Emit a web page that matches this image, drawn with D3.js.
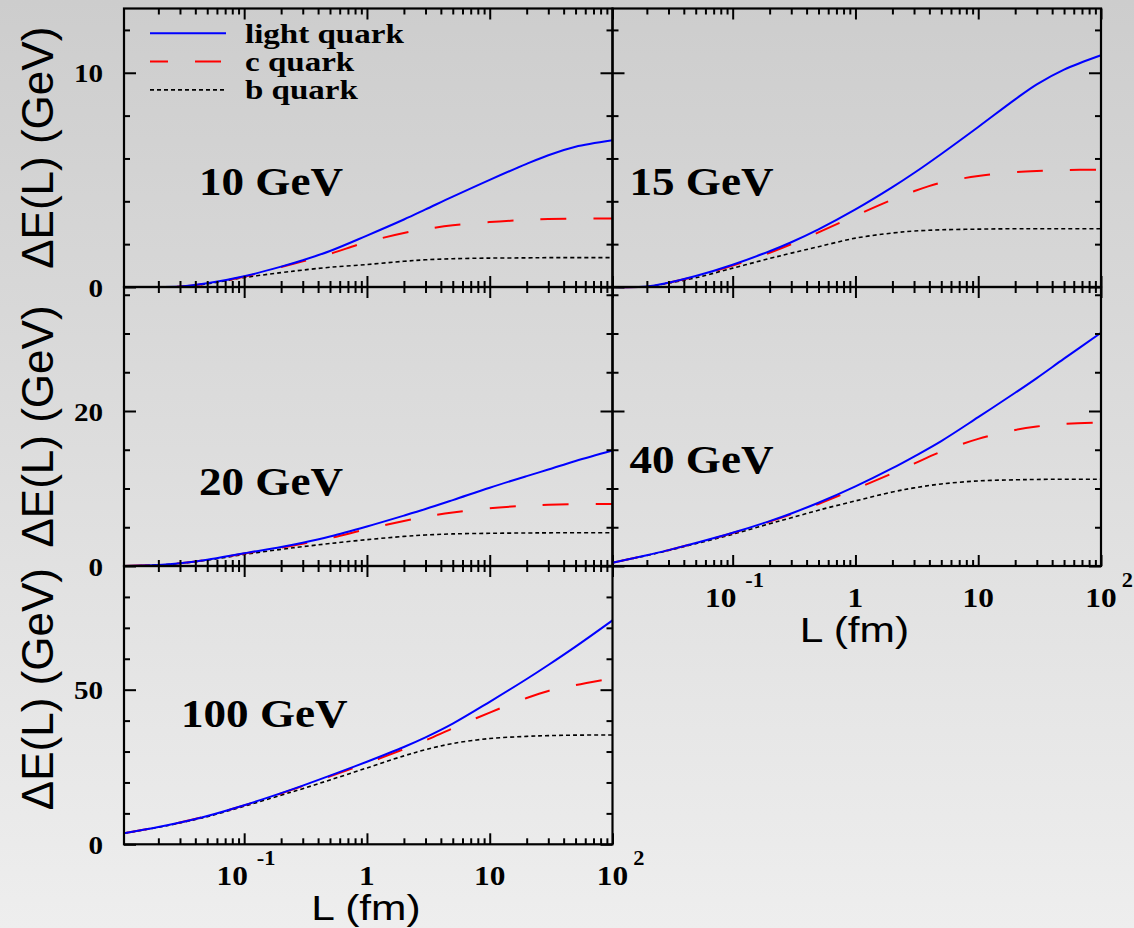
<!DOCTYPE html>
<html>
<head>
<meta charset="utf-8">
<script src="https://cdn.jsdelivr.net/npm/d3@7"></script>
<style>
  html, body { margin: 0; padding: 0; background: #dedede; }
  svg { display: block; }
</style>
</head>
<body>
<svg id="chart" width="1134" height="928"></svg>
<script>
// L (fm) sample points, shared by every curve
const xs = [0.0105, 0.02, 0.03, 0.05, 0.1, 0.2, 0.3, 0.5, 1, 2, 3, 5, 10, 20, 30, 50, 100]

// Delta E(L) in GeV
const light10 = [0, 0, 0.02, 0.17, 0.5, 0.95, 1.25, 1.68, 2.4, 3.15, 3.62, 4.22, 5.0, 5.75, 6.15, 6.55, 6.85]
const c10     = [0, 0, 0.02, 0.16, 0.48, 0.93, 1.2, 1.55, 2.1, 2.52, 2.7, 2.88, 3.03, 3.13, 3.17, 3.19, 3.2]
const b10     = [0, 0, 0.02, 0.15, 0.44, 0.67, 0.79, 0.92, 1.05, 1.2, 1.27, 1.32, 1.35, 1.36, 1.37, 1.37, 1.37]

const light15 = [0, 0.02, 0.2, 0.51, 1.04, 1.67, 2.09, 2.69, 3.62, 4.66, 5.32, 6.21, 7.47, 8.76, 9.46, 10.15, 10.82]
const c15     = [0, 0.02, 0.2, 0.49, 1.0, 1.6, 2.0, 2.55, 3.33, 4.08, 4.47, 4.87, 5.18, 5.36, 5.42, 5.46, 5.48]
const b15     = [0, 0.02, 0.18, 0.43, 0.88, 1.33, 1.58, 1.88, 2.28, 2.52, 2.61, 2.67, 2.7, 2.72, 2.72, 2.72, 2.72]

const light20 = [0, 0.13, 0.35, 0.8, 1.64, 2.45, 3.0, 3.8, 5.1, 6.5, 7.35, 8.5, 10.1, 11.6, 12.45, 13.55, 14.9]
const c20     = [0, 0.13, 0.35, 0.78, 1.6, 2.38, 2.88, 3.6, 4.75, 5.8, 6.35, 6.9, 7.45, 7.78, 7.9, 7.97, 8.0]
const b20     = [0, 0.12, 0.33, 0.75, 1.5, 2.15, 2.5, 2.9, 3.4, 3.82, 4.0, 4.14, 4.22, 4.26, 4.28, 4.29, 4.3]

const light40 = [0.43, 1.38, 2.05, 2.96, 4.28, 5.79, 6.78, 8.16, 10.27, 12.62, 14.12, 16.12, 19.2, 22.35, 24.25, 26.75, 30.1]
const c40     = [0.43, 1.38, 2.05, 2.95, 4.25, 5.72, 6.68, 8.0, 9.95, 11.95, 13.2, 14.75, 16.4, 17.55, 18.0, 18.35, 18.5]
const b40     = [0.43, 1.36, 2.0, 2.88, 4.1, 5.45, 6.22, 7.2, 8.4, 9.55, 10.08, 10.58, 10.98, 11.12, 11.17, 11.2, 11.2]

const light100 = [3.55, 5.59, 7.05, 9.16, 12.65, 16.56, 18.99, 22.19, 26.71, 31.47, 34.57, 39.01, 46.08, 53.45, 57.99, 63.94, 72.43]
const c100     = [3.55, 5.59, 7.05, 9.16, 12.6, 16.45, 18.85, 22.0, 26.2, 30.8, 33.6, 37.5, 42.6, 47.3, 49.6, 51.5, 53.7]
const b100     = [3.55, 5.5, 6.9, 8.95, 12.3, 15.9, 18.0, 20.8, 24.7, 28.6, 30.6, 32.6, 34.2, 34.9, 35.15, 35.3, 35.35]

const seriesNames = ["light quark", "c quark", "b quark"]
const panelLabels = ["10 GeV", "15 GeV", "20 GeV", "40 GeV", "100 GeV"]

// axis settings
const xDomain = [0.0105, 100]
const xMajor = [0.1, 1, 10, 100]
const xTickLabels = [
  { v: 0.1, base: "10", sup: "-1" },
  { v: 1, base: "1" },
  { v: 10, base: "10" },
  { v: 100, base: "10", sup: "2" }
]
const yMax = [13, 36, 90]
const yMajor = [[0, 10], [0, 20], [0, 50]]
const yMinorStep = [2, 5, 10]

// layout
const colX = [124, 612.5, 1101]
const rowY = [8.5, 287, 566, 844.3]
const titleShift = [0, 0, -16]

const panels = [
  { label: panelLabels[0], series: [light10, c10, b10], col: 0, row: 0, lx: 75, ly: 186.5, legend: true },
  { label: panelLabels[1], series: [light15, c15, b15], col: 1, row: 0, lx: 17, ly: 186.5 },
  { label: panelLabels[2], series: [light20, c20, b20], col: 0, row: 1, lx: 75, ly: 208 },
  { label: panelLabels[3], series: [light40, c40, b40], col: 1, row: 1, lx: 17, ly: 186, xLabels: true },
  { label: panelLabels[4], series: [light100, c100, b100], col: 0, row: 2, lx: 57, ly: 161, xLabels: true }
]

const styles = [
  { color: "#0000ff", width: 2, dash: null },
  { color: "#ff0000", width: 2, dash: "26,27" },
  { color: "#000000", width: 1.6, dash: "4,3" }
]

const SERIF = "'Liberation Serif','Times New Roman',serif"
const SANS = "'Liberation Sans',Arial,Helvetica,sans-serif"

const svg = d3.select("#chart")

// grey background gradient
const grad = svg.append("defs").append("linearGradient")
  .attr("id", "bg").attr("x1", 0).attr("y1", 0).attr("x2", 0).attr("y2", 1)
grad.append("stop").attr("offset", 0).attr("stop-color", "#cdcdcd")
grad.append("stop").attr("offset", 1).attr("stop-color", "#eeeeee")
svg.append("rect").attr("width", 1134).attr("height", 928).attr("fill", "url(#bg)")

// bold serif text, slightly wide like the original
function stext(g, x, y, str, size, anchor = "start", sx = 1.12) {
  return g.append("text")
    .attr("transform", `translate(${x},${y}) scale(${sx},1)`)
    .attr("text-anchor", anchor)
    .style("font-family", SERIF)
    .style("font-weight", "bold")
    .style("font-size", size + "px")
    .attr("fill", "#000")
    .text(str)
}

const minorX = []
for (let k = -2; k <= 1; k++)
  for (let m = 2; m <= 9; m++) {
    const v = m * Math.pow(10, k)
    if (v >= xDomain[0] && v <= xDomain[1]) minorX.push(v)
  }

function addAxis(g, axisFn, scale, vals, size, tx, ty, sw) {
  g.append("g")
    .attr("transform", `translate(${tx},${ty})`)
    .call(axisFn(scale).tickValues(vals).tickSize(size).tickSizeOuter(0).tickFormat(""))
    .call(s => s.select(".domain").remove())
    .call(s => s.selectAll("line").attr("stroke", "#000").attr("stroke-width", sw))
}

panels.forEach(p => {
  const x0 = colX[p.col], x1 = colX[p.col + 1]
  const y0 = rowY[p.row], y1 = rowY[p.row + 1]
  const w = x1 - x0, h = y1 - y0
  const g = svg.append("g").attr("transform", `translate(${x0},${y0})`)

  const x = d3.scaleLog().domain(xDomain).range([0, w])
  const y = d3.scaleLinear().domain([0, yMax[p.row]]).range([h, 0])

  const line = d3.line()
    .x(d => x(d[0]))
    .y(d => y(d[1]))
    .curve(d3.curveCatmullRom.alpha(0.5))

  // curves: b first so light quark lies on top
  ;[2, 1, 0].forEach(i => {
    const st = styles[i]
    g.append("path")
      .datum(xs.map((v, j) => [v, p.series[i][j]]))
      .attr("d", line)
      .attr("fill", "none")
      .attr("stroke", st.color)
      .attr("stroke-width", st.width)
      .attr("stroke-dasharray", st.dash)
  })

  // inward ticks on all four sides
  const minorY = d3.range(yMinorStep[p.row], yMax[p.row], yMinorStep[p.row])
    .filter(v => !yMajor[p.row].includes(v))
  addAxis(g, d3.axisBottom, x, xMajor, -11, 0, h, 2)
  addAxis(g, d3.axisBottom, x, minorX, -6, 0, h, 2)
  addAxis(g, d3.axisTop, x, xMajor, -11, 0, 0, 2)
  addAxis(g, d3.axisTop, x, minorX, -6, 0, 0, 2)
  addAxis(g, d3.axisLeft, y, yMajor[p.row], -12, 0, 0, 2)
  addAxis(g, d3.axisLeft, y, minorY, -6, 0, 0, 2)
  addAxis(g, d3.axisRight, y, yMajor[p.row], -12, w, 0, 2)
  addAxis(g, d3.axisRight, y, minorY, -6, w, 0, 2)

  g.append("rect")
    .attr("width", w).attr("height", h)
    .attr("fill", "none").attr("stroke", "#000").attr("stroke-width", 2.2)

  // panel label
  stext(g, p.lx, p.ly, p.label, 41, "start", 1.1)

  // y tick labels + title on left column
  if (p.col === 0) {
    yMajor[p.row].forEach(v => {
      stext(g, -21, y(v) + 9.5, String(v), 26, "end")
    })
    svg.append("text")
      .attr("transform", `translate(53,${(y0 + y1) / 2 + titleShift[p.row]}) rotate(-90)`)
      .attr("text-anchor", "middle")
      .style("font-family", SANS)
      .style("font-size", "44px")
      .attr("fill", "#000")
      .text("\u0394E(L) (GeV)")
  }

  // x tick labels and title
  if (p.xLabels) {
    xTickLabels.forEach(d => {
      const cx = x(d.v) + (d.sup && d.sup.startsWith("-") ? -12 : 0)
      const t = stext(g, cx, h + 41, d.base, 28, "middle")
      if (d.sup) {
        const bw = t.node().getComputedTextLength() * 1.12
        const gap = d.sup.startsWith("-") ? 9 : 5
        stext(g, cx + bw / 2 + gap, h + 21, d.sup, 20, "start")
      }
    })
    g.append("text")
      .attr("transform", `translate(${x(1) - 1},${h + 75.5}) scale(1.18,1)`)
      .attr("text-anchor", "middle")
      .style("font-family", SANS)
      .style("font-size", "36px")
      .attr("fill", "#000")
      .text("L (fm)")
  }

  // legend
  if (p.legend) {
    seriesNames.forEach((name, i) => {
      const st = styles[i]
      const ly = 33.3 + i * 28.3 - y0
      g.append("line")
        .attr("x1", 150 - x0).attr("x2", 226 - x0)
        .attr("y1", ly).attr("y2", ly)
        .attr("stroke", st.color)
        .attr("stroke-width", st.width)
        .attr("stroke-dasharray", st.dash)
        .attr("stroke-dashoffset", i === 1 ? 8 : 0)
      stext(g, 245 - x0, ly + 9.5, name, 28, "start", 1.18)
    })
  }
})
</script>
</body>
</html>
